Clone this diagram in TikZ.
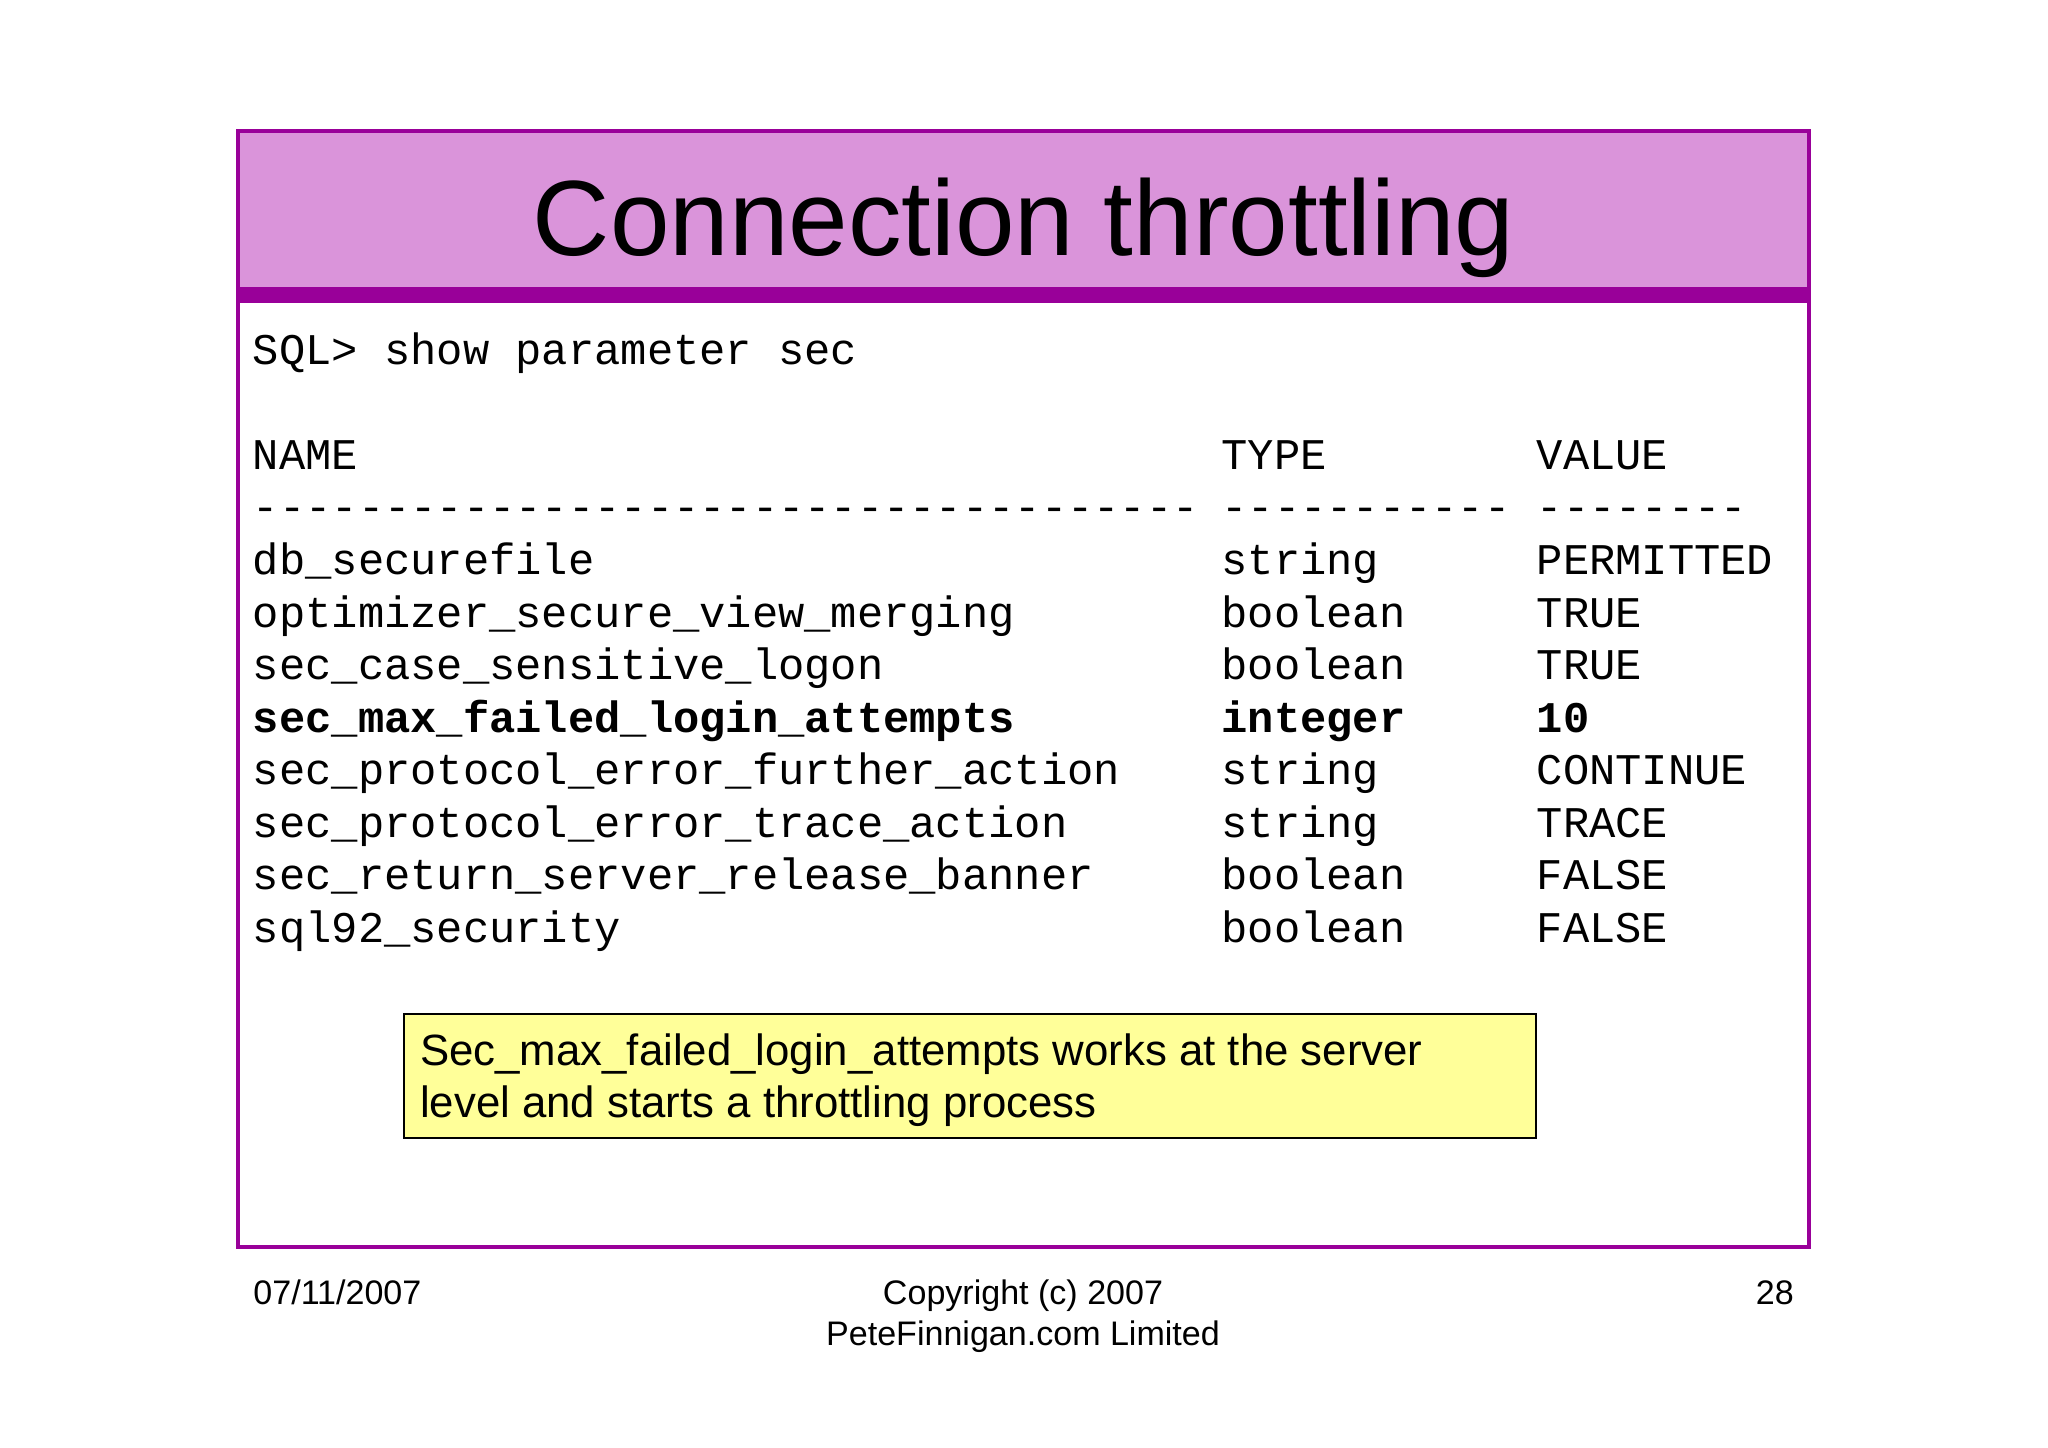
\documentclass[tikz,border=0pt]{standalone}
\usepackage{fontspec}
\setmainfont{Liberation Sans}
\setmonofont{Liberation Mono}
\definecolor{slidepurple}{HTML}{990099}
\definecolor{slidepink}{HTML}{DA94DA}
\definecolor{noteyellow}{HTML}{FFFF99}

\begin{document}
\begin{tikzpicture}[x=1pt, y=1pt,
    frame/.style={draw=slidepurple, line width=1.4pt},
    sql/.style={anchor=base west, inner sep=0pt, font=\ttfamily\fontsize{18}{21.6}\selectfont},
    sqlbold/.style={sql, font=\ttfamily\bfseries\fontsize{18}{21.6}\selectfont},
    note/.style={draw=black, line width=0.9pt, fill=noteyellow, anchor=north west, minimum width=465.5pt, minimum height=51pt, inner sep=0pt},
    notetext/.style={anchor=base west, inner sep=0pt, align=left, font=\fontsize{18}{21.4}\selectfont},
    foot/.style={inner sep=0pt, font=\fontsize{14}{16.8}\selectfont}
  ]
  \useasboundingbox (0,0) rectangle (842,595);

  % Title band
  \fill[slidepink] (97.9,477) rectangle (743.8,541.1);
  \fill[slidepurple] (97.9,470.3) rectangle (743.8,477);
  \draw[frame] (97.9,82.3) rectangle (743.8,541.1);
  \node[anchor=base, inner sep=0pt, font=\fontsize{44}{52}\selectfont] (title) at (420.9,490.1) {Connection throttling};

  % Query and header
  \node[sql] (cmd) at (103.8,445.2) {SQL> show parameter sec};
  \node[sql] (hname) at (103.8,402) {NAME};
  \node[sql] (htype) at (502,402) {TYPE};
  \node[sql] (hval) at (631.6,402) {VALUE};
  \node[sql] (lname) at (103.8,380.4) {------------------------------------};
  \node[sql] (ltype) at (502,380.4) {-----------};
  \node[sql] (lval) at (631.6,380.4) {--------};

  % Parameter rows
  \foreach \i/\pname/\ptype/\pval in {1/db\_securefile/string/PERMITTED,
      2/optimizer\_secure\_view\_merging/boolean/TRUE,
      3/sec\_case\_sensitive\_logon/boolean/TRUE,
      5/sec\_protocol\_error\_further\_action/string/CONTINUE,
      6/sec\_protocol\_error\_trace\_action/string/TRACE,
      7/sec\_return\_server\_release\_banner/boolean/FALSE,
      8/sql92\_security/boolean/FALSE}
  {
    \node[sql] (name\i) at (103.8,{358.8-(\i-1)*21.6}) {\pname};
    \node[sql] (type\i) at (502,{358.8-(\i-1)*21.6}) {\ptype};
    \node[sql] (val\i) at (631.6,{358.8-(\i-1)*21.6}) {\pval};
  }
  \node[sqlbold] (name4) at (103.8,294) {sec\_max\_failed\_login\_attempts};
  \node[sqlbold] (type4) at (502,294) {integer};
  \node[sqlbold] (val4) at (631.6,294) {10};

  % Note
  \node[note] (note) at (165.7,178.5) {};
  \node[notetext] (notetxt) at ([xshift=6.8pt, yshift=-42.8pt]note.north west) {Sec\_max\_failed\_login\_attempts works at the server\\level and starts a throttling process};

  % Footer
  \node[foot, anchor=base west] (date) at (104,58.8) {07/11/2007};
  \node[foot, anchor=base, align=center] (copy) at (420.6,42) {Copyright (c) 2007\\PeteFinnigan.com Limited};
  \node[foot, anchor=base east] (page) at (737.7,58.8) {28};
\end{tikzpicture}
\end{document}
